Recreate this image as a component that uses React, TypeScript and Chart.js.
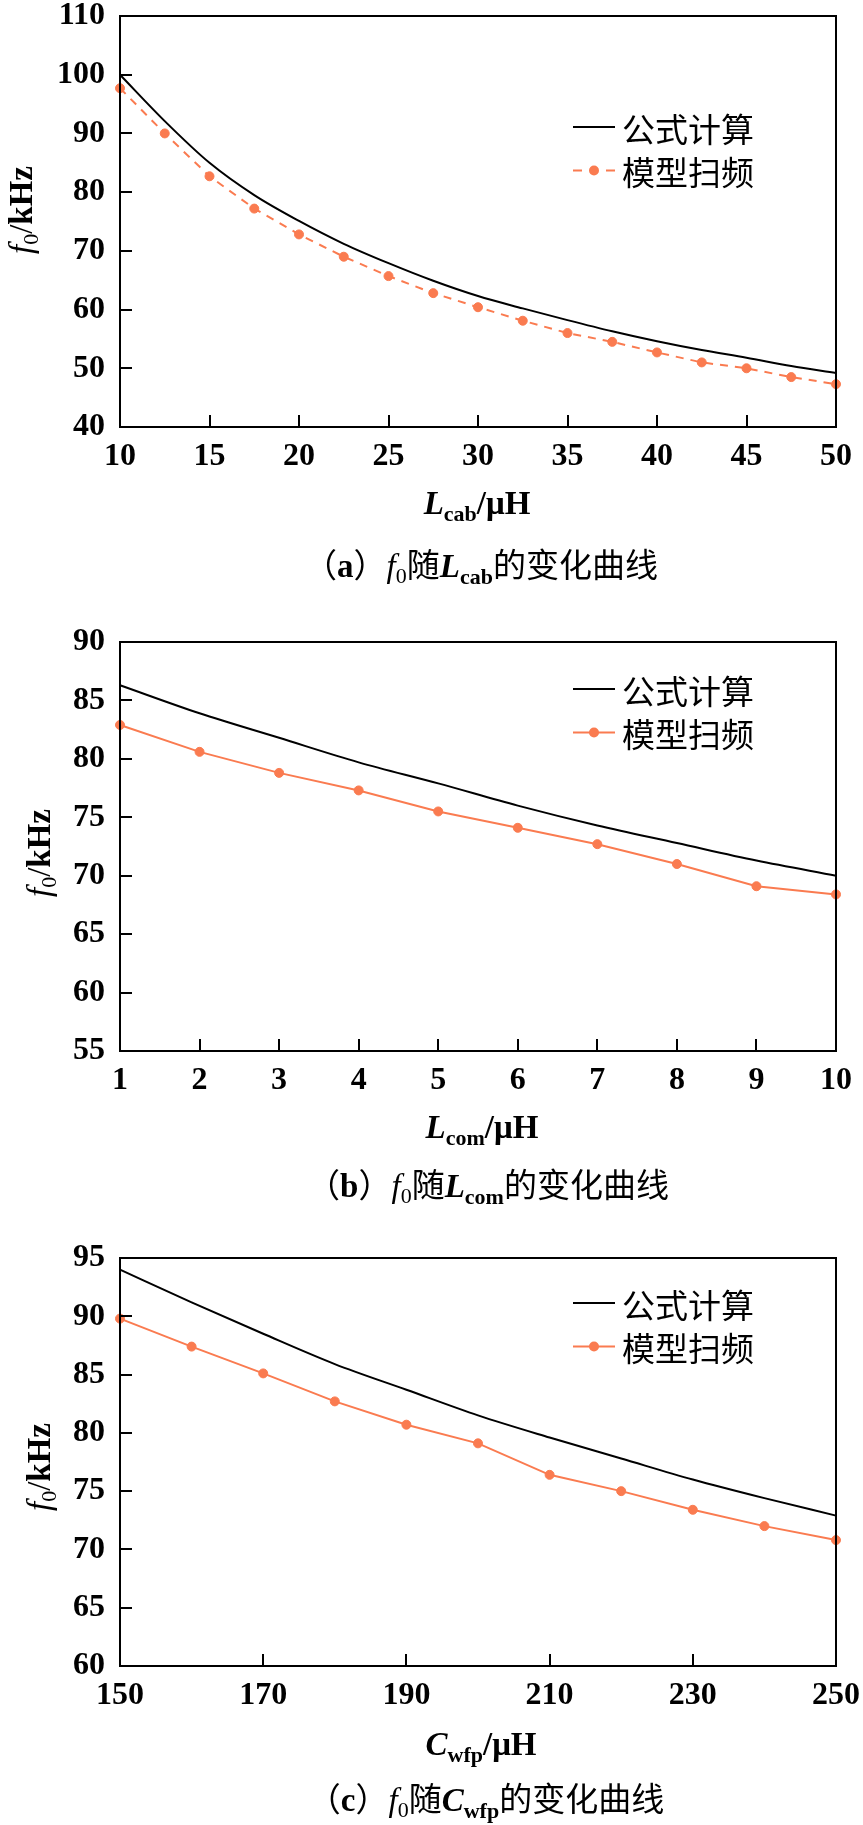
import React, { useEffect, useRef } from "react";
import { Chart, registerables } from "chart.js";

Chart.register(...registerables);

const ORANGE = "#FA7B50";
const SERIF = "'Liberation Serif', 'Times New Roman', serif";
const CJK = "'Noto Sans CJK SC', 'Noto Sans CJK JP', sans-serif";
const W = 863;

// ---------- Panel (a): f0 vs Lcab ----------
const lcabX = [10, 12.5, 15, 17.5, 20, 22.5, 25, 27.5, 30, 32.5, 35, 37.5, 40, 42.5, 45, 47.5, 50];
const lcabFormula = [100, 92.1, 85.0, 79.5, 75.1, 71.2, 67.9, 64.9, 62.3, 60.2, 58.2, 56.3, 54.6, 53.1, 51.8, 50.4, 49.2];
const lcabSweep = [97.7, 90.0, 82.7, 77.2, 72.8, 69.0, 65.7, 62.8, 60.4, 58.1, 56.0, 54.5, 52.7, 51.0, 50.0, 48.5, 47.3];

// ---------- Panel (b): f0 vs Lcom ----------
const lcomX = [1, 2, 3, 4, 5, 6, 7, 8, 9, 10];
const lcomFormula = [86.3, 83.9, 81.8, 79.7, 77.9, 76.0, 74.3, 72.8, 71.3, 70.0];
const lcomSweep = [82.9, 80.6, 78.8, 77.3, 75.5, 74.1, 72.7, 71.0, 69.1, 68.4];

// ---------- Panel (c): f0 vs Cwfp ----------
const cwfpX = [150, 160, 170, 180, 190, 200, 210, 220, 230, 240, 250];
const cwfpFormula = [94.0, 91.2, 88.5, 85.9, 83.7, 81.5, 79.6, 77.8, 76.0, 74.4, 72.9];
const cwfpSweep = [89.8, 87.4, 85.1, 82.7, 80.7, 79.1, 76.4, 75.0, 73.4, 72.0, 70.8];

const legendLabels = ["公式计算", "模型扫频"];

type Seg = { t: string; f: string; dy?: number };

const fMain = (style: string) => `${style} 33px ${SERIF}`;
const fSub = (style: string) => `${style} 22px ${SERIF}`;
const fCjk = `normal 33px ${CJK}`;

function yTitleSegs(): Seg[] {
  return [
    { t: "f", f: fMain("italic") },
    { t: "0", f: fSub("normal"), dy: 6 },
    { t: "/", f: fMain("normal") },
    { t: "kHz", f: fMain("bold") },
  ];
}

function xTitleSegs(sym: string, sub: string): Seg[] {
  return [
    { t: sym, f: fMain("italic bold") },
    { t: sub, f: fSub("bold"), dy: 7 },
    { t: "/μH", f: fMain("bold") },
  ];
}

function captionSegs(letter: string, sym: string, sub: string): Seg[] {
  return [
    { t: "（", f: fCjk },
    { t: letter, f: fMain("bold") },
    { t: "）", f: fCjk },
    { t: "f", f: fMain("italic") },
    { t: "0", f: fSub("normal"), dy: 6 },
    { t: "随", f: fCjk },
    { t: sym, f: fMain("italic bold") },
    { t: sub, f: fSub("bold"), dy: 7 },
    { t: "的变化曲线", f: fCjk },
  ];
}

interface PanelSpec {
  top: number;
  height: number;
  plot: { left: number; right: number; top: number; bottom: number };
  xMin: number;
  xMax: number;
  xStep: number;
  yMin: number;
  yMax: number;
  yStep: number;
  xs: number[];
  formula: number[];
  sweep: number[];
  dashed: boolean;
  xTitle: Seg[];
  xTitleX: number;
  xTitleY: number;
  yTitleX: number;
  yTitleY: number;
  legendRows: [number, number];
  caption: Seg[];
  captionX: number;
  captionY: number;
}

const panels: PanelSpec[] = [
  {
    top: 0,
    height: 600,
    plot: { left: 120, right: 836, top: 16, bottom: 427 },
    xMin: 10, xMax: 50, xStep: 5,
    yMin: 40, yMax: 110, yStep: 10,
    xs: lcabX, formula: lcabFormula, sweep: lcabSweep,
    dashed: true,
    xTitle: xTitleSegs("L", "cab"), xTitleX: 477, xTitleY: 514,
    yTitleX: 32, yTitleY: 210,
    legendRows: [129, 172],
    caption: captionSegs("a", "L", "cab"), captionX: 481, captionY: 577,
  },
  {
    top: 600,
    height: 615,
    plot: { left: 120, right: 836, top: 42, bottom: 451 },
    xMin: 1, xMax: 10, xStep: 1,
    yMin: 55, yMax: 90, yStep: 5,
    xs: lcomX, formula: lcomFormula, sweep: lcomSweep,
    dashed: false,
    xTitle: xTitleSegs("L", "com"), xTitleX: 482, xTitleY: 538,
    yTitleX: 50, yTitleY: 253,
    legendRows: [91, 134],
    caption: captionSegs("b", "L", "com"), captionX: 488, captionY: 597,
  },
  {
    top: 1215,
    height: 610,
    plot: { left: 120, right: 836, top: 43, bottom: 451 },
    xMin: 150, xMax: 250, xStep: 20,
    yMin: 60, yMax: 95, yStep: 5,
    xs: cwfpX, formula: cwfpFormula, sweep: cwfpSweep,
    dashed: false,
    xTitle: xTitleSegs("C", "wfp"), xTitleX: 481, xTitleY: 540,
    yTitleX: 50, yTitleY: 252,
    legendRows: [90, 133],
    caption: captionSegs("c", "C", "wfp"), captionX: 486, captionY: 596,
  },
];

function richWidth(ctx: CanvasRenderingContext2D, segs: Seg[]) {
  let w = 0;
  for (const s of segs) {
    ctx.font = s.f;
    w += ctx.measureText(s.t).width;
  }
  return w;
}

function drawRich(ctx: CanvasRenderingContext2D, segs: Seg[], x: number, y: number) {
  const w = richWidth(ctx, segs);
  let cx = x - w / 2;
  ctx.textAlign = "left";
  ctx.textBaseline = "alphabetic";
  ctx.fillStyle = "#000";
  for (const s of segs) {
    ctx.font = s.f;
    ctx.fillText(s.t, cx, y + (s.dy || 0));
    cx += ctx.measureText(s.t).width;
  }
}

function makeDecor(spec: PanelSpec) {
  return {
    id: "decor",
    afterDraw(chart: any) {
      const ctx: CanvasRenderingContext2D = chart.ctx;
      const area = chart.chartArea;
      const xs = chart.scales.x;
      const ys = chart.scales.y;
      ctx.save();
      // inward ticks
      ctx.strokeStyle = "#000";
      ctx.lineWidth = 2;
      ctx.beginPath();
      for (const t of xs.ticks) {
        const px = Math.round(xs.getPixelForValue(t.value));
        ctx.moveTo(px, area.bottom);
        ctx.lineTo(px, area.bottom - 12);
      }
      for (const t of ys.ticks) {
        const py = Math.round(ys.getPixelForValue(t.value));
        ctx.moveTo(area.left, py);
        ctx.lineTo(area.left + 12, py);
      }
      ctx.stroke();
      // frame
      ctx.strokeRect(area.left, area.top, area.right - area.left, area.bottom - area.top);

      // legend
      const [r1, r2] = spec.legendRows;
      const lx0 = 573;
      const lx1 = 615;
      ctx.lineWidth = 2;
      ctx.strokeStyle = "#000";
      ctx.beginPath();
      ctx.moveTo(lx0, r1 - 2);
      ctx.lineTo(lx1, r1 - 2);
      ctx.stroke();
      ctx.strokeStyle = ORANGE;
      ctx.beginPath();
      if (spec.dashed) {
        ctx.moveTo(lx0, r2 - 1.5);
        ctx.lineTo(lx0 + 9, r2 - 1.5);
        ctx.moveTo(lx1 - 9, r2 - 1.5);
        ctx.lineTo(lx1, r2 - 1.5);
      } else {
        ctx.moveTo(lx0, r2 - 1.5);
        ctx.lineTo(lx1, r2 - 1.5);
      }
      ctx.stroke();
      ctx.fillStyle = ORANGE;
      ctx.beginPath();
      ctx.arc((lx0 + lx1) / 2, r2 - 1.5, 5, 0, Math.PI * 2);
      ctx.fill();
      ctx.fillStyle = "#000";
      ctx.font = fCjk;
      ctx.textAlign = "left";
      ctx.textBaseline = "middle";
      ctx.fillText(legendLabels[0], 622, r1);
      ctx.fillText(legendLabels[1], 622, r2);

      // x title
      drawRich(ctx, spec.xTitle, spec.xTitleX, spec.xTitleY);
      // caption
      drawRich(ctx, spec.caption, spec.captionX, spec.captionY);
      // y title (rotated)
      ctx.save();
      ctx.translate(spec.yTitleX, spec.yTitleY);
      ctx.rotate(-Math.PI / 2);
      drawRich(ctx, yTitleSegs(), 0, 0);
      ctx.restore();

      ctx.restore();
    },
  };
}

function buildConfig(spec: PanelSpec): any {
  const tickFont = { family: SERIF, size: 32, weight: "bold" as const, lineHeight: 1.2 };
  const formulaPts = spec.xs.map((x, i) => ({ x, y: spec.formula[i] }));
  const sweepPts = spec.xs.map((x, i) => ({ x, y: spec.sweep[i] }));
  return {
    type: "line",
    data: {
      datasets: [
        {
          label: legendLabels[0],
          data: formulaPts,
          borderColor: "#000",
          borderWidth: 2,
          pointRadius: 0,
          cubicInterpolationMode: "monotone",
          fill: false,
          clip: false,
        },
        {
          label: legendLabels[1],
          data: sweepPts,
          borderColor: ORANGE,
          backgroundColor: ORANGE,
          borderWidth: 2,
          borderDash: spec.dashed ? [8, 7] : [],
          pointRadius: 4.5,
          pointBorderWidth: 1,
          pointBackgroundColor: ORANGE,
          pointBorderColor: ORANGE,
          tension: 0,
          fill: false,
          clip: false,
        },
      ],
    },
    options: {
      responsive: false,
      maintainAspectRatio: false,
      animation: false,
      devicePixelRatio: 1,
      layout: {
        padding: { left: 0, right: W - spec.plot.right, top: spec.plot.top, bottom: 0 },
      },
      plugins: {
        legend: { display: false },
        tooltip: { enabled: false },
        title: { display: false },
      },
      scales: {
        x: {
          type: "linear",
          position: "bottom",
          min: spec.xMin,
          max: spec.xMax,
          grid: { display: false, drawTicks: false },
          border: { display: false },
          ticks: {
            stepSize: spec.xStep,
            autoSkip: false,
            maxRotation: 0,
            padding: 11,
            color: "#000",
            font: tickFont,
          },
          afterFit: (s: any) => {
            s.height = spec.height - spec.plot.bottom;
            s.paddingLeft = 0;
            s.paddingRight = 0;
            s.paddingTop = 0;
            s.paddingBottom = 0;
          },
        },
        y: {
          type: "linear",
          position: "left",
          min: spec.yMin,
          max: spec.yMax,
          grid: { display: false, drawTicks: false },
          border: { display: false },
          ticks: {
            stepSize: spec.yStep,
            autoSkip: false,
            padding: 15,
            color: "#000",
            font: tickFont,
          },
          afterFit: (s: any) => {
            s.width = spec.plot.left;
            s.paddingLeft = 0;
            s.paddingRight = 0;
            s.paddingTop = 0;
            s.paddingBottom = 0;
          },
        },
      },
    },
    plugins: [makeDecor(spec)],
  };
}

function Panel({ spec }: { spec: PanelSpec }) {
  const ref = useRef<HTMLCanvasElement>(null);
  useEffect(() => {
    if (!ref.current) return;
    const chart = new Chart(ref.current, buildConfig(spec));
    return () => chart.destroy();
  }, [spec]);
  return (
    <canvas
      ref={ref}
      width={W}
      height={spec.height}
      style={{ position: "absolute", left: 0, top: spec.top, width: W, height: spec.height, display: "block" }}
    />
  );
}

export default function App() {
  return (
    <div style={{ position: "absolute", left: 0, top: 0, width: W, height: 1825, background: "#fff" }}>
      {panels.map((p, i) => (
        <Panel key={i} spec={p} />
      ))}
    </div>
  );
}
